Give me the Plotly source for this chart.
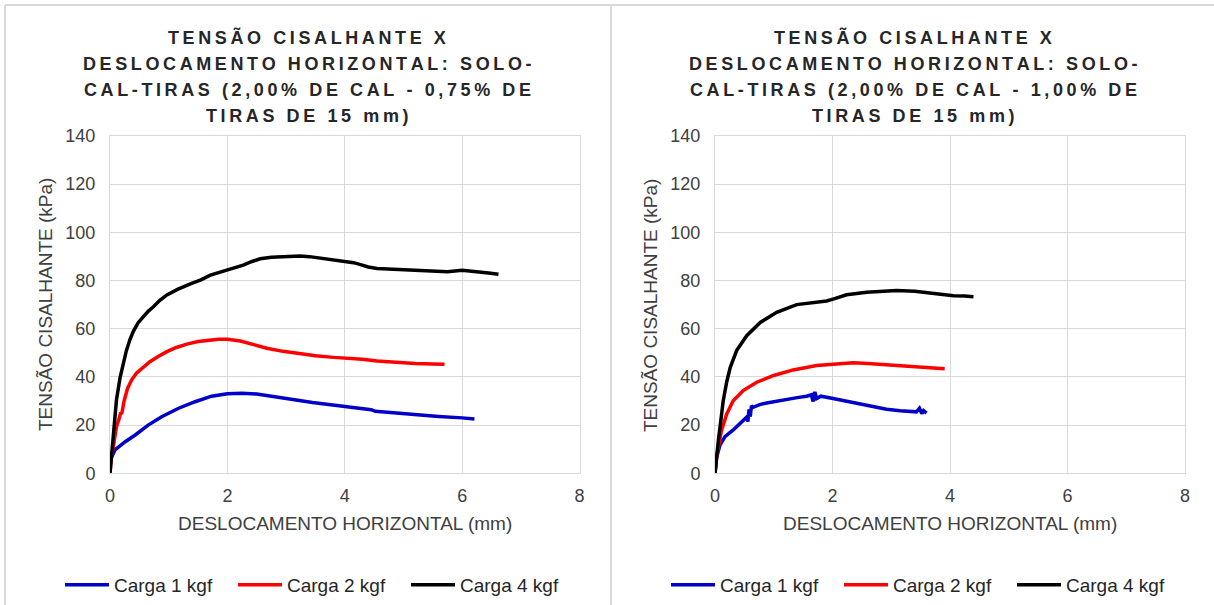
import plotly.graph_objects as go

W, H = 1214, 605

# ---------------- data ----------------
# Left panel: 2,00% cal - 0,75% tiras
left_x_1 = [0, 0.005, 0.085, 0.26, 0.43, 0.65, 0.88, 1.17, 1.45, 1.73, 2.0, 2.25, 2.5, 2.75,
            2.96, 3.2, 3.45, 3.7, 4.0, 4.25, 4.45, 4.52, 4.8, 5.2, 5.6, 6.0, 6.21]
left_y_1 = [0, 5.5, 9.7, 13.1, 15.9, 20.0, 23.5, 27.0, 29.7, 32.0, 33.0, 33.2, 32.9, 32.1,
            31.2, 30.3, 29.4, 28.6, 27.7, 26.9, 26.4, 25.7, 25.1, 24.2, 23.6, 23.0, 22.5]

left_x_2 = [0, 0.02, 0.056, 0.11, 0.16, 0.18, 0.20, 0.24, 0.30, 0.37, 0.45, 0.56, 0.68, 0.82,
            0.97, 1.13, 1.31, 1.50, 1.71, 1.85, 2.0, 2.22, 2.45, 2.67, 2.95, 3.24, 3.5, 3.81,
            4.0, 4.3, 4.55, 4.9, 5.2, 5.5, 5.70]
left_y_2 = [0, 6.0, 11.0, 19.3, 23.0, 25.2, 24.6, 30.0, 35.3, 38.8, 41.5, 44.0, 46.3, 48.5,
            50.5, 52.2, 53.6, 54.7, 55.3, 55.6, 55.6, 54.9, 53.4, 51.9, 50.6, 49.5, 48.8, 48.1,
            47.9, 47.3, 46.6, 46.0, 45.6, 45.4, 45.2]

left_x_4 = [0, 0.03, 0.056, 0.11, 0.17, 0.23, 0.28, 0.34, 0.40, 0.48, 0.57, 0.65, 0.74, 0.85,
            0.97, 1.15, 1.37, 1.55, 1.71, 1.85, 2.0, 2.15, 2.27, 2.42, 2.56, 2.75, 2.9, 3.1,
            3.24, 3.4, 3.6, 3.81, 4.0, 4.15, 4.27, 4.4, 4.55, 4.95, 5.25, 5.5, 5.75, 6.0,
            6.3, 6.45, 6.62]
left_y_4 = [0, 9.0, 18.0, 30.4, 39.5, 46.0, 51.0, 55.5, 59.0, 62.5, 65.0, 67.2, 69.1, 71.8,
            74.0, 76.3, 78.6, 80.3, 82.2, 83.3, 84.3, 85.3, 86.4, 87.9, 89.0, 89.6, 89.8, 90.1,
            90.2, 89.9, 89.2, 88.6, 88.1, 87.4, 86.6, 85.6, 85.0, 84.6, 84.3, 83.9, 83.6, 84.3,
            83.7, 83.1, 82.6]

# Right panel: 2,00% cal - 1,00% tiras
right_x_1 = [0, 0.01, 0.03, 0.085, 0.17, 0.31, 0.43, 0.54, 0.56, 0.58, 0.60, 0.62, 0.65, 0.76,
             0.88, 1.05, 1.22, 1.40, 1.56, 1.64, 1.67, 1.70, 1.73, 1.80, 2.01, 2.24, 2.47,
             2.70, 2.92, 3.15, 3.43, 3.48, 3.52, 3.55, 3.60]
right_y_1 = [0, 4.0, 6.9, 11.7, 15.2, 18.0, 20.7, 23.3, 21.5, 26.5, 23.5, 28.0, 27.4, 28.5,
             29.2, 30.0, 30.8, 31.4, 32.0, 32.6, 29.8, 33.8, 31.0, 32.0, 31.0, 29.8, 28.7,
             27.5, 26.6, 26.0, 25.5, 27.0, 24.8, 26.0, 25.0]

right_x_2 = [0, 0.02, 0.057, 0.11, 0.2, 0.31, 0.48, 0.71, 1.0, 1.33, 1.73, 2.01, 2.35, 2.6,
             2.87, 3.15, 3.43, 3.7, 3.91]
right_y_2 = [0, 6.0, 10.8, 17.7, 24.6, 30.1, 34.3, 37.8, 40.6, 42.9, 44.7, 45.4, 45.9, 45.6,
             45.1, 44.5, 44.0, 43.6, 43.4]

right_x_4 = [0, 0.02, 0.057, 0.1, 0.14, 0.2, 0.26, 0.37, 0.54, 0.77, 1.05, 1.39, 1.73, 1.9,
             2.01, 2.24, 2.58, 2.85, 3.09, 3.4, 3.72, 4.06, 4.25, 4.40]
right_y_4 = [0, 6.0, 13.6, 22.0, 30.1, 38.0, 44.0, 51.0, 57.1, 62.6, 66.8, 70.0, 71.0, 71.5,
             72.3, 74.1, 75.1, 75.5, 75.9, 75.5, 74.7, 73.7, 73.6, 73.3]

series_names = ["Carga 1 kgf", "Carga 2 kgf", "Carga 4 kgf"]
series_colors = ["#0000C8", "#FF0000", "#000000"]

left_title = ["TENSÃO CISALHANTE X", "DESLOCAMENTO HORIZONTAL: SOLO-",
              "CAL-TIRAS (2,00% DE CAL - 0,75% DE", "TIRAS DE 15 mm)"]
right_title = ["TENSÃO CISALHANTE X", "DESLOCAMENTO HORIZONTAL: SOLO-",
               "CAL-TIRAS (2,00% DE CAL - 1,00% DE", "TIRAS DE 15 mm)"]
x_title = "DESLOCAMENTO HORIZONTAL (mm)"
y_title = "TENSÃO CISALHANTE (kPa)"

FONT = "Liberation Sans, Arial, sans-serif"
GRID = "#D9D9D9"


def fx(p):
    return p / W


def fy(p):
    return 1 - p / H


def spaced(s):
    return "\u2009".join(s)


fig = go.Figure()

panels = [
    dict(xa="x", ya="y", leg="legend",
         xs=[left_x_1, left_x_2, left_x_4], ys=[left_y_1, left_y_2, left_y_4]),
    dict(xa="x2", ya="y2", leg="legend2",
         xs=[right_x_1, right_x_2, right_x_4], ys=[right_y_1, right_y_2, right_y_4]),
]
for p in panels:
    for name, color, xv, yv in zip(series_names, series_colors, p["xs"], p["ys"]):
        fig.add_trace(go.Scatter(
            x=xv, y=yv, mode="lines", name=name,
            line=dict(color=color, width=3.5),
            xaxis=p["xa"], yaxis=p["ya"], legend=p["leg"],
            hoverinfo="skip",
        ))

axis_common = dict(
    showgrid=True, gridcolor=GRID, gridwidth=1,
    showline=True, linecolor=GRID, linewidth=1, mirror=True,
    zeroline=False, ticks="", automargin=False,
    tickfont=dict(family=FONT, size=18, color="#404040"),
    fixedrange=True,
)

y_dom = [fy(473.3), fy(135.9)]
fig.update_layout(
    xaxis=dict(domain=[fx(110), fx(579.5)], range=[0, 8], dtick=2, anchor="y",
               ticklabelstandoff=6, **axis_common),
    yaxis=dict(domain=y_dom, range=[0, 140], dtick=20, anchor="x",
               ticklabelstandoff=10, **axis_common),
    xaxis2=dict(domain=[fx(715), fx(1185)], range=[0, 8], dtick=2, anchor="y2",
                ticklabelstandoff=6, **axis_common),
    yaxis2=dict(domain=y_dom, range=[0, 140], dtick=20, anchor="x2",
                ticklabelstandoff=10, **axis_common),
)

legend_common = dict(
    orientation="h", yanchor="middle", y=fy(585), xanchor="left",
    font=dict(family=FONT, size=19, color="#262626"),
    bgcolor="rgba(0,0,0,0)", itemwidth=44,
    entrywidth=114, entrywidthmode="pixels",
)
fig.update_layout(
    legend=dict(x=fx(60), **legend_common),
    legend2=dict(x=fx(666), **legend_common),
)

annotations = []
title_rows = [37.7, 64.2, 90.3, 116.0]
for cx, lines in ((307, left_title), (913, right_title)):
    for row, line in zip(title_rows, lines):
        annotations.append(dict(
            text=spaced(line), x=fx(cx), y=fy(row), xref="paper", yref="paper",
            xanchor="center", yanchor="middle", showarrow=False,
            font=dict(family=FONT, size=18, color="#262626", weight="bold"),
        ))
for cx in (344.7, 950):
    annotations.append(dict(
        text=x_title, x=fx(cx), y=fy(523), xref="paper", yref="paper",
        xanchor="center", yanchor="middle", showarrow=False,
        font=dict(family=FONT, size=19, color="#404040"),
    ))
for cx in (45, 650):
    annotations.append(dict(
        text=y_title, x=fx(cx), y=fy(305), xref="paper", yref="paper",
        xanchor="center", yanchor="middle", showarrow=False, textangle=-90,
        font=dict(family=FONT, size=19, color="#404040"),
    ))

# panel frames
border = dict(color=GRID, width=2)
shapes = [
    dict(type="line", xref="paper", yref="paper", x0=fx(5), x1=fx(W), y0=fy(5), y1=fy(5), line=border),
    dict(type="line", xref="paper", yref="paper", x0=fx(5), x1=fx(5), y0=fy(5), y1=fy(H), line=border),
    dict(type="line", xref="paper", yref="paper", x0=fx(611), x1=fx(611), y0=fy(5), y1=fy(H), line=border),
]

fig.update_layout(
    width=W, height=H, margin=dict(l=0, r=0, t=0, b=0, autoexpand=False),
    paper_bgcolor="white", plot_bgcolor="white",
    annotations=annotations, shapes=shapes,
    font=dict(family=FONT),
)

fig.write_html("out.html", config={"displayModeBar": False})
